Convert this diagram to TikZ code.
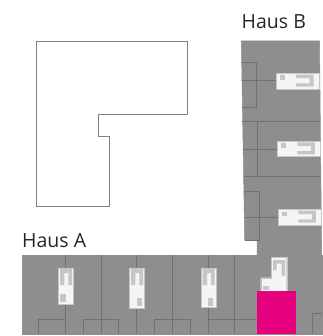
\documentclass[tikz,border=0pt]{standalone}
\usepackage{fontspec}
\setmainfont{Open Sans}
\usepackage{tikz}
\definecolor{housegray}{HTML}{8E8E8E}
\definecolor{wallgray}{HTML}{707070}
\definecolor{detailgray}{HTML}{C6C6C6}
\definecolor{unitpink}{HTML}{E6007E}
\begin{document}
\begin{tikzpicture}[x=1pt,y=-1pt,font=\fontsize{19.5}{22}\selectfont]
  % Styles
  \tikzstyle{house}=[fill=housegray,draw=housegray,line width=0.5pt]
  \tikzstyle{wall}=[draw=wallgray,line width=0.8pt]
  \tikzstyle{window}=[fill=white!96!black,draw=detailgray,line width=0.4pt]
  \tikzstyle{detail}=[fill=detailgray]
  \tikzstyle{label}=[anchor=base west,inner sep=0pt,text=black!85]
  \useasboundingbox (0,0) rectangle (322,336);

  % Empty plot
  \draw[draw=black!50,line width=0.9pt] (36.7,41.7) -- (187.7,41.7) -- (187.7,114) -- (98.3,114) -- (98.3,136) -- (109.3,136) -- (109.3,206) -- (36.7,206) -- cycle;

  % Building outlines
  \fill[house] (241.3,41) -- (319.5,41) -- (321.5,240) -- (321.5,255) -- (257,255) -- (257,240) -- (244.7,240) -- cycle;
  \fill[house] (22,255.3) rectangle (322,334.3);

  % Walls of Haus B
  \draw[wall] (241.5,62.3) -- (256.7,62.3) -- (256.7,107.3) -- (242.2,107.3);
  \draw[wall] (241.7,80.7) -- (276,80.7);
  \draw[wall] (242.3,121.3) -- (320,121.3);
  \draw[wall] (257.7,121.3) -- (257.7,177);
  \draw[wall] (243,149.3) -- (277.3,149.3);
  \draw[wall] (243.5,176.7) -- (320.5,176.7);
  \draw[wall] (244.2,191) -- (259.3,191) -- (259.3,240) -- (244.7,240);
  \draw[wall] (244.4,217.7) -- (278.3,217.7);

  % Walls of Haus A
  \foreach \wallx in {65.3,101.3,136.7,172.3,208.3,234}
    \draw[wall] (\wallx,255.3) -- (\wallx,334.3);
  \draw[wall] (38.3,334.3) -- (38.3,319.3) -- (65.3,319.3);
  \draw[wall] (83.3,334.3) -- (83.3,319.3) -- (118.7,319.3) -- (118.7,334.3);
  \draw[wall] (154.3,334.3) -- (154.3,319.3) -- (190.7,319.3) -- (190.7,334.3);
  \draw[wall] (208.3,319.3) -- (257.3,319.3);
  \draw[wall] (322,313.3) -- (312.3,313.3) -- (312.3,334.3);

  % Windows of Haus B
  \foreach \wx/\wy in {276/73.3,277.3/141,278.3/209.3}{
    \fill[window] (\wx,\wy) rectangle ++(43,15.6);
    \fill[detail] (\wx+3.5,\wy+2.2) rectangle ++(5.6,4.6);
    \fill[detail] (\wx+20,\wy+1.4) -- ++(17.5,0) -- ++(0,12) -- ++(-17.5,0) -- ++(0,-3.4) -- ++(13.5,0) -- ++(0,-5.2) -- ++(-13.5,0) -- cycle;
  }

  % Windows of Haus A
  \foreach \wx/\wy/\wh/\sqx/\sqw in {58/267.7/36/2/6,129/267.7/40/8/4.5,200.7/267.7/39.5/7.5/4.5}{
    \fill[window] (\wx,\wy) rectangle ++(15.6,\wh);
    \fill[detail] (\wx+2,\wy+1.5) -- ++(12,0) -- ++(0,16) -- ++(-3.6,0) -- ++(0,-12) -- ++(-4,0) -- ++(0,12) -- ++(-4.4,0) -- cycle;
    \fill[detail] (\wx+\sqx,\wy+\wh-9.5) rectangle ++(\sqw,8);
  }

  % Sold unit
  \fill[window] (271,257) -- (286.7,257) -- (286.7,291.3) -- (260.7,291.3) -- (260.7,277.7) -- (271,277.7) -- cycle;
  \fill[detail] (273,260) -- (285,260) -- (285,276) -- (281.5,276) -- (281.5,263.5) -- (276.5,263.5) -- (276.5,270) -- (273,270) -- cycle;
  \fill[detail] (263,286) rectangle ++(6,4);
  \fill[unitpink] (257.3,291.3) rectangle (295.7,334.3);

  % Labels
  \node[label] (hausA) at (22,247.5) {Haus A};
  \node[label] (hausB) at (241.5,28.5) {Haus B};
\end{tikzpicture}
\end{document}
